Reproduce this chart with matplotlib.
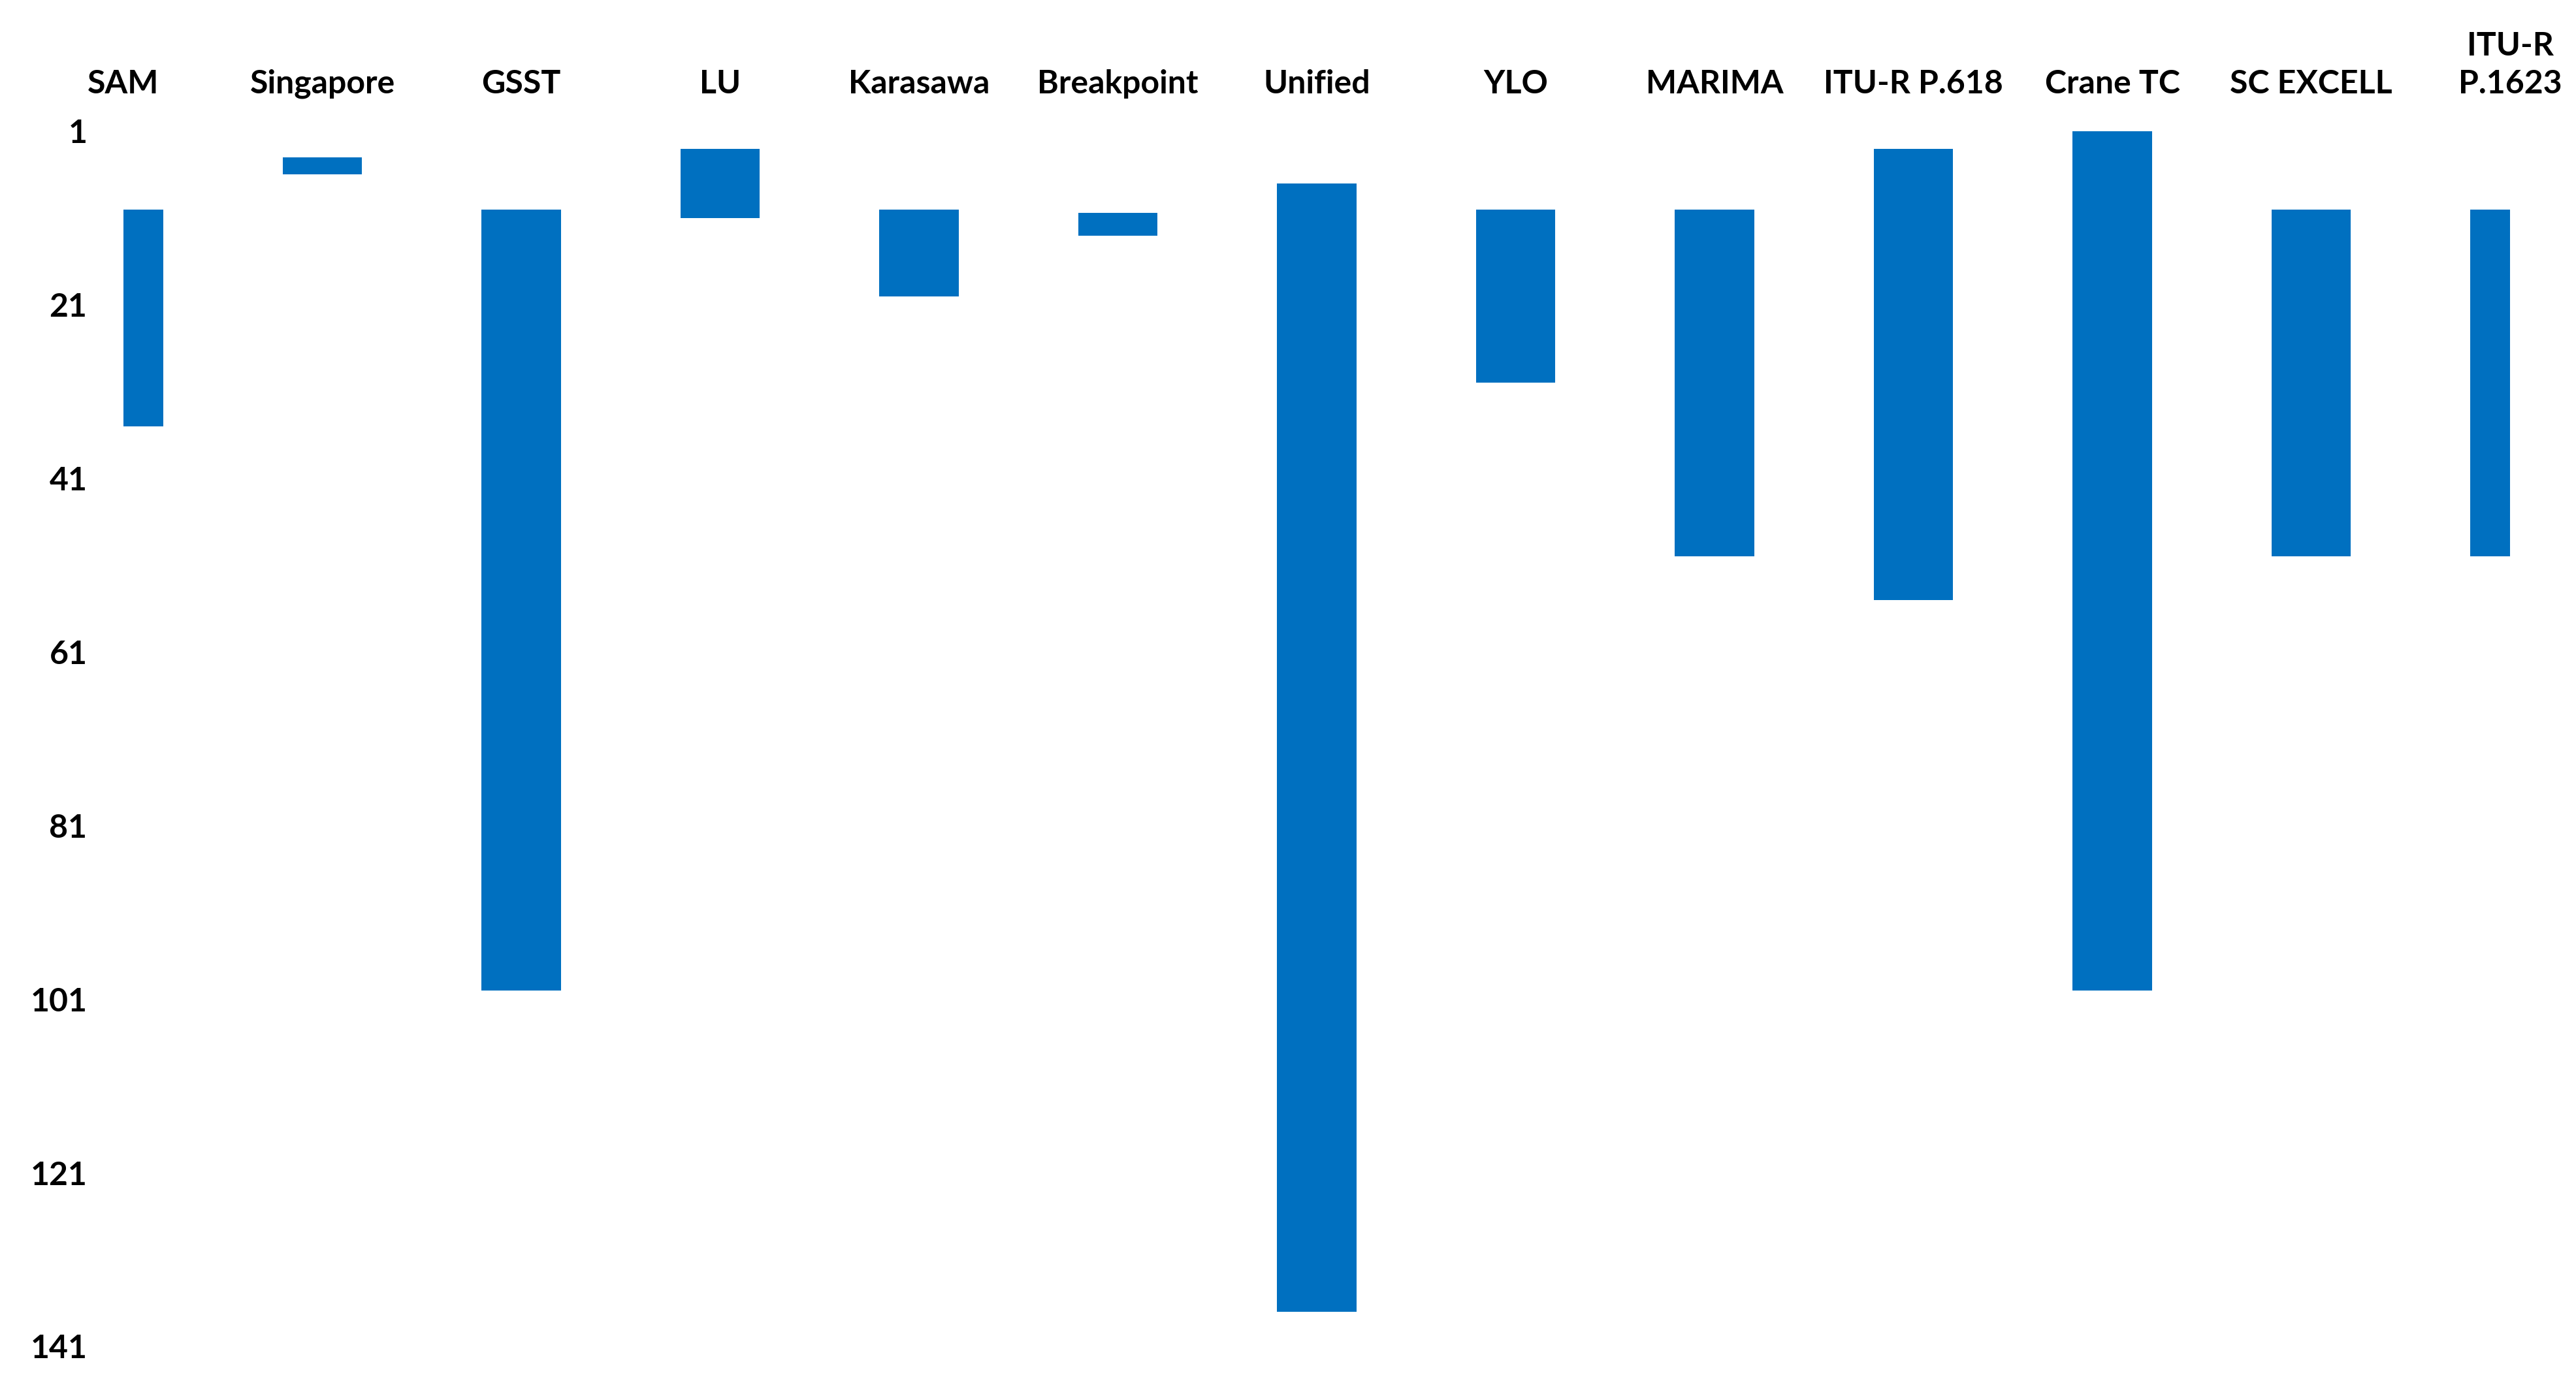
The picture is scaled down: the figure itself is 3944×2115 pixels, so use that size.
import numpy as np
import matplotlib
matplotlib.use('Agg')
import matplotlib.pyplot as plt

''' --- Data --- '''
models = ['SAM', 'Singapore', 'GSST', 'LU', 'Karasawa', 'Breakpoint', 'Unified',
          'YLO', 'MARIMA', 'ITU-R P.618', 'Crane TC', 'SC EXCELL', 'ITU-R\nP.1623']
start = [10, 4, 10, 3, 10, 10.4, 7, 10, 10, 3, 1, 10, 10]
end = [35, 6, 100, 11, 20, 13, 137, 30, 50, 55, 100, 50, 50]
yticks = [1, 21, 41, 61, 81, 101, 121, 141]

plt.rcParams['font.family'] = ['Lato', 'DejaVu Sans']
plt.rcParams['font.weight'] = 'bold'

''' --- Plot --- '''
fig = plt.figure(figsize=(39.44, 21.15), dpi=100)
ax = fig.add_axes([189/3944, 1-2062/2115, (3843-189)/3944, (2062-201)/2115])

x = np.arange(len(models))
heights = np.array(end) - np.array(start)
ax.bar(x, heights, bottom=start, width=0.4, color='#0070C0')

ax.set_xlim(0, len(models)-1)
ax.set_ylim(141, 1)
ax.xaxis.tick_top()
ax.set_xticks(x)
ax.set_xticklabels(models, fontsize=36, fontweight='bold', linespacing=1.35)
ax.set_yticks(yticks)
ax.set_yticklabels([str(v) for v in yticks], fontsize=36, fontweight='bold')
ax.tick_params(axis='x', length=0, pad=36)
ax.tick_params(axis='y', length=0, pad=40)
for s in ax.spines.values():
    s.set_visible(False)

fig.savefig('out.png', dpi=100)
